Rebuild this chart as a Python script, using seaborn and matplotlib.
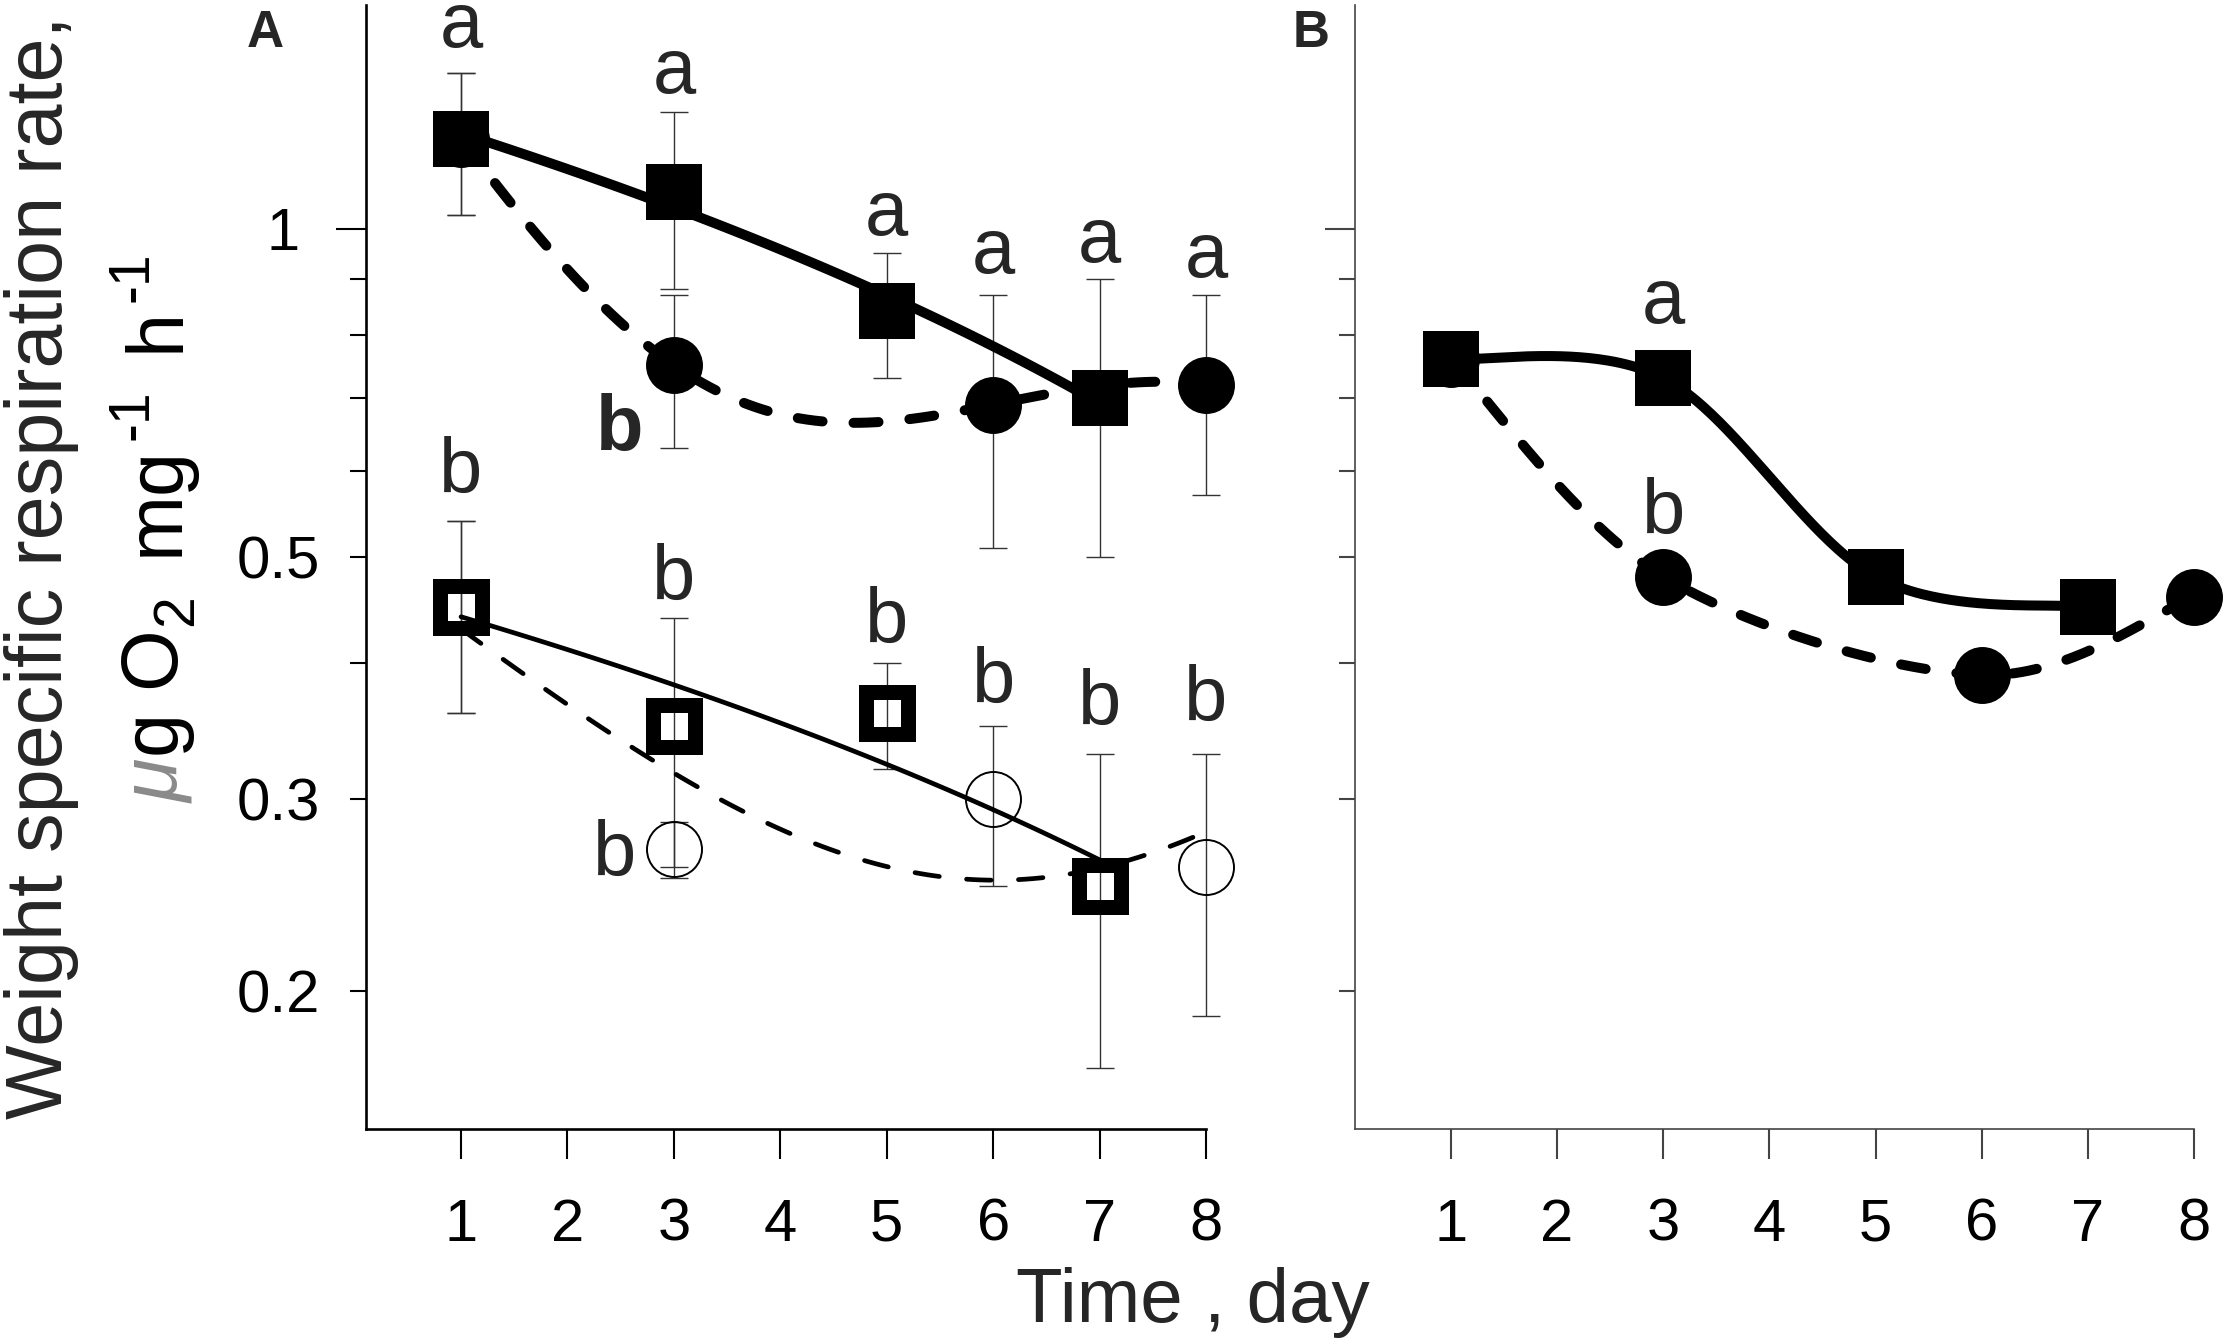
import numpy as np
import matplotlib
matplotlib.use("Agg")
import matplotlib.pyplot as plt
import seaborn as sns
from matplotlib.ticker import FixedLocator, FuncFormatter, NullFormatter, NullLocator
from matplotlib.font_manager import FontProperties

# ---------------- data ----------------
days_sq = [1, 3, 5, 7]
days_ci = [1, 3, 6, 8]
x_ticks = [1, 2, 3, 4, 5, 6, 7, 8]
y_major_ticks = [1.0]
y_minor_ticks = [0.2, 0.3, 0.4, 0.5, 0.6, 0.7, 0.8, 0.9]
y_tick_labels = {0.2: "0.2", 0.3: "0.3", 0.5: "0.5", 1.0: "1"}

# Panel A
a_sq_filled = [1.21, 1.08, 0.84, 0.70]
a_sq_filled_err = [0.18, 0.20, 0.11, 0.20]
a_ci_filled = [1.21, 0.75, 0.69, 0.72]
a_ci_filled_err = [0.18, 0.12, 0.18, 0.15]
a_sq_open = [0.45, 0.35, 0.36, 0.25]
a_sq_open_err = [0.09, 0.09, 0.04, 0.08]
a_ci_open = [0.45, 0.27, 0.30, 0.26]
a_ci_open_err = [0.09, 0.016, 0.05, 0.07]

# Panel B
b_sq_filled = [0.76, 0.73, 0.48, 0.45]
b_ci_filled = [0.76, 0.48, 0.39, 0.46]

# significance letters (anchor day, baseline value, text, bold)
a_letter_days = [1, 3, 5, 6, 7, 8, 2.49, 1, 3, 5, 6, 7, 8, 2.44]
a_letter_vals = [1.469, 1.332, 0.987, 0.911, 0.933, 0.904, 0.627,
                 0.573, 0.457, 0.417, 0.368, 0.351, 0.354, 0.255]
a_letter_text = ["a"] * 6 + ["b"] * 8
a_letter_bold = [False] * 6 + [True] + [False] * 7
b_letter_days = [3, 3]
b_letter_vals = [0.82, 0.525]
b_letter_text = ["a", "b"]

ylabel_line1 = "Weight specific respiration rate,"
xlabel_text = "Time , day"

# ---------------- style ----------------
sns.set_style("ticks")
plt.rcParams["font.family"] = ["Liberation Sans", "DejaVu Sans"]
plt.rcParams["lines.dash_capstyle"] = "round"
plt.rcParams["lines.solid_capstyle"] = "round"

W, H = 2228, 1343
fig = plt.figure(figsize=(W / 100, H / 100), dpi=100)
fig.patch.set_facecolor("white")


def px_ax(left, right, top, bottom):
    return [left / W, 1 - bottom / H, (right - left) / W, (bottom - top) / H]


axA = fig.add_axes(px_ax(366, 1206, 5, 1129))
axB = fig.add_axes(px_ax(1355, 2194, 5, 1129))


def smooth_through(x, y, n=80):
    """Smoothed line through the points (Catmull-Rom / Bezier), in (x, log y)."""
    P = np.column_stack([np.asarray(x, float), np.log10(np.asarray(y, float))])
    pts = np.vstack([P[:1], P, P[-1:]])
    t = np.linspace(0, 1, n)[:, None]
    out = []
    for i in range(1, len(pts) - 2):
        p0, p1, p2, p3 = pts[i - 1], pts[i], pts[i + 1], pts[i + 2]
        c1 = p1 + (p2 - p0) / 6.0
        c2 = p2 - (p3 - p1) / 6.0
        seg = ((1 - t) ** 3) * p1 + 3 * ((1 - t) ** 2) * t * c1 + 3 * (1 - t) * t ** 2 * c2 + t ** 3 * p2
        out.append(seg if i == 1 else seg[1:])
    out = np.vstack(out)
    return out[:, 0], 10 ** out[:, 1]


THICK = 7.2
THIN = 3.4
thick_dash = (0, (2.5, 3.1))
thin_dash = (0, (5.2, 5.8))
ecol = "#333333"
err_kw = dict(fmt="none", ecolor=ecol, elinewidth=1.0, capsize=10.4, capthick=1.0,
              zorder=1.5, clip_on=False)

# ---------------- Panel A ----------------
ax = axA
ax.set_yscale("log")
sns.regplot(x=days_ci, y=a_ci_filled, order=3, ci=None, scatter=False, ax=ax, color="black",
            line_kws=dict(lw=THICK, ls=thick_dash, clip_on=False, zorder=2))
sns.regplot(x=days_sq, y=a_sq_filled, order=1, ci=None, scatter=False, ax=ax, color="black",
            line_kws=dict(lw=THICK, ls="-", clip_on=False, zorder=2))
sns.regplot(x=days_ci, y=a_ci_open, order=2, ci=None, scatter=False, ax=ax, color="black",
            line_kws=dict(lw=THIN, ls=thin_dash, clip_on=False, zorder=2))
sns.regplot(x=days_sq, y=a_sq_open, order=1, ci=None, scatter=False, ax=ax, color="black",
            line_kws=dict(lw=THIN, ls="-", clip_on=False, zorder=2))
ax.errorbar(days_ci, a_ci_filled, yerr=a_ci_filled_err, **err_kw)
ax.errorbar(days_sq, a_sq_filled, yerr=a_sq_filled_err, **err_kw)
ax.errorbar(days_ci, a_ci_open, yerr=a_ci_open_err, **err_kw)
ax.errorbar(days_sq, a_sq_open, yerr=a_sq_open_err, **err_kw)
ax.plot(days_ci, a_ci_filled, ls="none", marker="o", ms=41, mfc="black", mec="black", mew=0,
        zorder=3, clip_on=False)
ax.plot(days_sq, a_sq_filled, ls="none", marker="s", ms=41, mfc="black", mec="black", mew=0,
        zorder=3.1, clip_on=False)
ax.plot(days_ci, a_ci_open, ls="none", marker="o", ms=39.6, mfc="none", mec="black", mew=1.4,
        zorder=3, clip_on=False)
ax.plot(days_sq, a_sq_open, ls="none", marker="s", ms=30.2, mfc="none", mec="black", mew=10.8,
        zorder=3.1, clip_on=False)
for d, v, t, b in zip(a_letter_days, a_letter_vals, a_letter_text, a_letter_bold):
    ax.text(d, v, t, ha="center", va="baseline", fontsize=56,
            fontweight="bold" if b else "normal", clip_on=False)

# ---------------- Panel B ----------------
ax = axB
ax.set_yscale("log")
xs, ys = smooth_through(days_ci, b_ci_filled)
ax.plot(xs, ys, color="black", lw=THICK, ls=thick_dash, clip_on=False, zorder=2)
xs, ys = smooth_through(days_sq, b_sq_filled)
ax.plot(xs, ys, color="black", lw=THICK, ls="-", clip_on=False, zorder=2)
ax.plot(days_ci, b_ci_filled, ls="none", marker="o", ms=41, mfc="black", mec="black", mew=0,
        zorder=3, clip_on=False)
ax.plot(days_sq, b_sq_filled, ls="none", marker="s", ms=41, mfc="black", mec="black", mew=0,
        zorder=3.1, clip_on=False)
for d, v, t in zip(b_letter_days, b_letter_vals, b_letter_text):
    ax.text(d, v, t, ha="center", va="baseline", fontsize=56, clip_on=False)

# ---------------- axes cosmetics ----------------
fmt = FuncFormatter(lambda v, p: y_tick_labels.get(round(v, 2), ""))
for ax, x0, lab, sc, slw in ((axA, 0.107, True, "black", 1.9), (axB, 0.096, False, "#444444", 1.2)):
    ax.set_xlim(x0, 8.0)
    ax.set_ylim(0.1496, 1.604)
    ax.xaxis.set_major_locator(FixedLocator(x_ticks))
    ax.xaxis.set_minor_locator(NullLocator())
    ax.yaxis.set_major_locator(FixedLocator(y_major_ticks))
    ax.yaxis.set_minor_locator(FixedLocator(y_minor_ticks))
    if lab:
        ax.yaxis.set_major_formatter(fmt)
        ax.yaxis.set_minor_formatter(fmt)
    else:
        ax.yaxis.set_major_formatter(NullFormatter())
        ax.yaxis.set_minor_formatter(NullFormatter())
    ax.xaxis.set_major_formatter(FuncFormatter(lambda v, p: f"{int(v)}"))
    for s in ("top", "right"):
        ax.spines[s].set_visible(False)
    for s in ("left", "bottom"):
        ax.spines[s].set_linewidth(slw)
        ax.spines[s].set_color(sc)
    ax.tick_params(axis="x", which="major", direction="out", length=21.6, width=1.5,
                   color=sc, pad=28, labelsize=43, labelcolor="black")
    ax.tick_params(axis="y", which="major", direction="out", length=21.6, width=1.5,
                   color=sc, pad=26, labelsize=43, labelcolor="black")
    ax.tick_params(axis="y", which="minor", direction="out", length=11.5, width=1.5,
                   color=sc, pad=21.6, labelsize=43, labelcolor="black")
    ax.set_xlabel("")
    ax.set_ylabel("")
    ax.set_facecolor("none")

# ---------------- figure texts ----------------
fig.text(265 / W, 1 - 47 / H, "A", ha="center", va="baseline", fontsize=37, fontweight="bold")
fig.text(1311 / W, 1 - 47 / H, "B", ha="center", va="baseline", fontsize=37, fontweight="bold")
fig.text(62 / W, 1 - 567 / H, ylabel_line1, rotation=90,
         rotation_mode="anchor", ha="center", va="baseline", fontsize=57)
fig.text(1193 / W, (H - 1321.7) / H, xlabel_text, ha="center", va="baseline", fontsize=55)

# second y-label line, built piece by piece (rotated 90 deg)
renderer = fig.canvas.get_renderer()
FS, FSS = 57, 41
pieces = [  # text, size, raise(px), gap before(px), colour, style
    ("\u03bc", FS, 0, 0, "#8a8a8a", "italic"),
    ("g O", FS, 0, 3, "black", "normal"),
    ("2", FSS, -14, 3, "black", "normal"),
    ("mg", FS, 0, 38, "black", "normal"),
    ("-1", FSS, 30, 6, "black", "normal"),
    ("h", FS, 0, 38, "black", "normal"),
    ("-1", FSS, 30, 6, "black", "normal"),
]
widths = []
for s, fs, r, g, c, st in pieces:
    fp = FontProperties(family=["Liberation Sans", "DejaVu Sans"], size=fs, style=st)
    w, h, d = renderer.get_text_width_height_descent(s, fp, ismath=False)
    widths.append(w)
base_x = 178.0
ypos = H - 803.0
for (s, fs, r, g, c, st), w in zip(pieces, widths):
    ypos += g
    fig.text((base_x - r) / W, ypos / H, s, rotation=90, rotation_mode="anchor",
             ha="left", va="baseline", fontsize=fs, color=c, style=st,
             family=["Liberation Sans", "DejaVu Sans"])
    ypos += w

fig.savefig("out.png", dpi=100, facecolor="white")
